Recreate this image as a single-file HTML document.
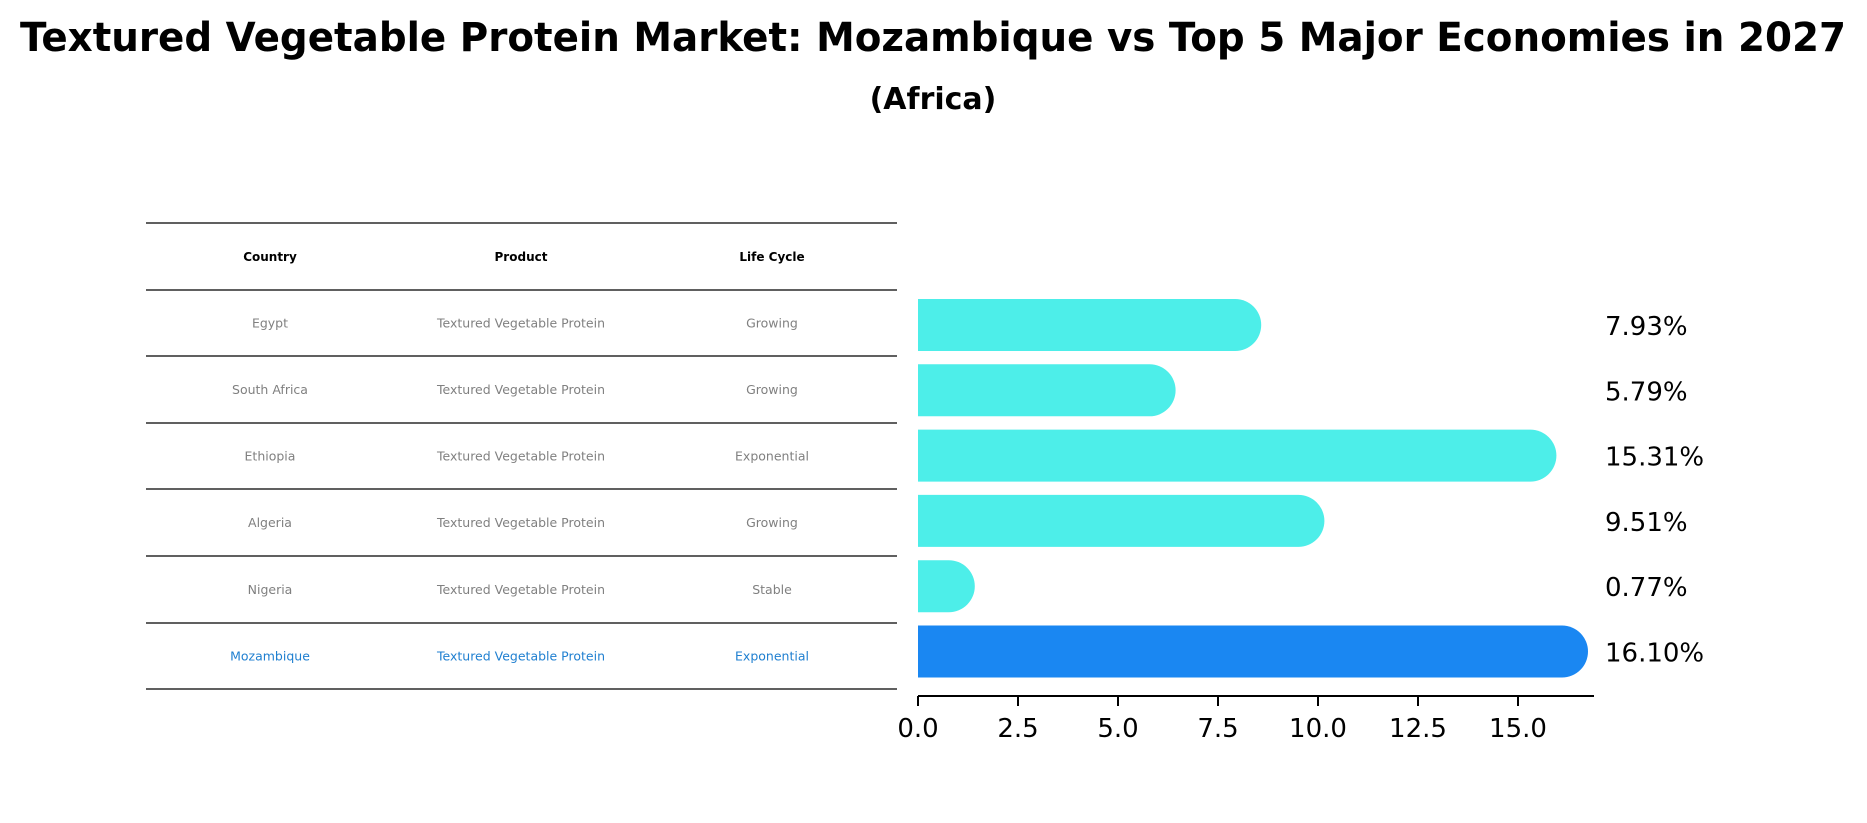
<!DOCTYPE html>
<html><head><meta charset="utf-8"><style>
html,body{margin:0;padding:0;background:#fff;}
svg{display:block;font-family:"DejaVu Sans","Liberation Sans",sans-serif;}
</style></head><body>
<svg id="chart" width="1867" height="823" viewBox="0 0 1867 823" xmlns="http://www.w3.org/2000/svg">
<text x="933" y="51" text-anchor="middle" font-size="40" font-weight="bold" textLength="1826" lengthAdjust="spacingAndGlyphs">Textured Vegetable Protein Market: Mozambique vs Top 5 Major Economies in 2027</text>
<text x="933" y="109" text-anchor="middle" font-size="30" font-weight="bold">(Africa)</text>
<g id="table"></g>
<g id="bars"></g>
</svg>
<script>
const countries = ["Egypt","South Africa","Ethiopia","Algeria","Nigeria","Mozambique"];
const products = ["Textured Vegetable Protein","Textured Vegetable Protein","Textured Vegetable Protein","Textured Vegetable Protein","Textured Vegetable Protein","Textured Vegetable Protein"];
const lifeCycles = ["Growing","Growing","Exponential","Growing","Stable","Exponential"];
const values = [7.93,5.79,15.31,9.51,0.77,16.10];
const ticks = [0,2.5,5,7.5,10,12.5,15];
const tickLabels = ["0.0","2.5","5.0","7.5","10.0","12.5","15.0"];

const NS="http://www.w3.org/2000/svg";
function mk(tag,attrs,parent){const e=document.createElementNS(NS,tag);for(const k in attrs)e.setAttribute(k,attrs[k]);parent.appendChild(e);return e;}
const x0=918, pxPerUnit=40;
const xScale=v=>x0+v*pxPerUnit;
const rowY0=325, rowStep=65.3;
const yScale=i=>rowY0+i*rowStep;
const barH=52;

// table
const tbl=document.getElementById('table');
const lineYs=[223,290,356,423,489,556,623,689];
lineYs.forEach((y,i)=>{const l=mk('line',{x1:146,x2:897,y1:y,y2:y,stroke:'#000','stroke-width':1.3},tbl);

});
const colX=[270,521,772];
["Country","Product","Life Cycle"].forEach((h,j)=>{const t=mk('text',{x:colX[j],y:261,'text-anchor':'middle','font-size':12,'font-weight':'bold',fill:'#000'},tbl);t.textContent=h;

});
countries.forEach((c,i)=>{
  const cy=(lineYs[i+1]+lineYs[i+2])/2+4.5;
  const col=i===countries.length-1?'#1f7fd0':'#808080';
  [c,products[i],lifeCycles[i]].forEach((v,j)=>{
    const t=mk('text',{x:colX[j],y:cy,'text-anchor':'middle','font-size':12.5,fill:col},tbl);t.textContent=v;
    
    
  });
});

// bars
const g=document.getElementById('bars');
values.forEach((v,i)=>{
  const cy=yScale(i);
  const col=i===values.length-1?'#1a87f2':'#4deee9';
  const xe=xScale(v);
  const p=mk('path',{d:`M${x0},${cy-barH/2} H${xe} A${barH/2},${barH/2} 0 0 1 ${xe},${cy+barH/2} H${x0} Z`,fill:col},g);
  
  
  const t=mk('text',{x:1605,y:cy+10,'font-size':26,fill:'#000'},g);
  t.textContent=v.toFixed(2)+'%';
  
  
});
const ax=mk('line',{x1:x0,x2:1594,y1:696,y2:696,stroke:'#000','stroke-width':2},g);


ticks.forEach((tv,i)=>{
  const x=xScale(tv);
  const tk=mk('line',{x1:x,x2:x,y1:696,y2:706,stroke:'#000','stroke-width':2},g);
  
  
  const t=mk('text',{x:x,y:737,'text-anchor':'middle','font-size':26,fill:'#000'},g);
  t.textContent=tickLabels[i];
  
  
});
</script>
</body></html>
